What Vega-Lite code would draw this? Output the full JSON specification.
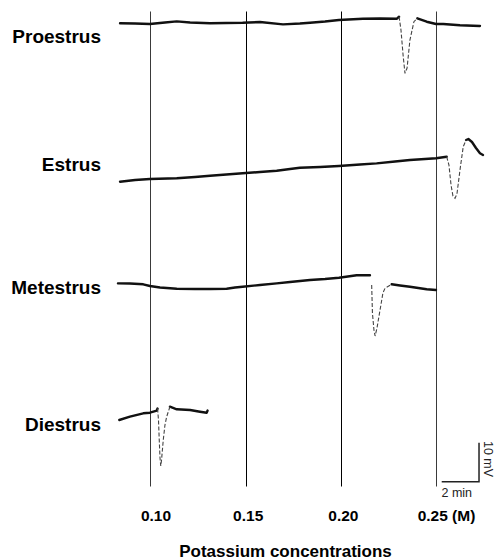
{
  "$schema": "https://vega.github.io/schema/vega-lite/v6.json",
  "width": 494,
  "height": 475,
  "autosize": "none",
  "padding": {"left": 0, "right": 0, "top": 11, "bottom": 74},
  "background": "white",
  "config": {"view": {"stroke": null}, "font": "Liberation Sans"},
  "datasets": {
    "traces": [
      {"seg":"P1","phase":"slow","t":0.0840,"v":118.64},
      {"seg":"P1","phase":"slow","t":0.0919,"v":118.59},
      {"seg":"P1","phase":"slow","t":0.0997,"v":118.46},
      {"seg":"P1","phase":"slow","t":0.1076,"v":118.85},
      {"seg":"P1","phase":"slow","t":0.1138,"v":119.15},
      {"seg":"P1","phase":"slow","t":0.1208,"v":118.85},
      {"seg":"P1","phase":"slow","t":0.1313,"v":118.64},
      {"seg":"P1","phase":"slow","t":0.1397,"v":118.72},
      {"seg":"P1","phase":"slow","t":0.1484,"v":118.79},
      {"seg":"P1","phase":"slow","t":0.1575,"v":118.97},
      {"seg":"P1","phase":"slow","t":0.1696,"v":118.38},
      {"seg":"P1","phase":"slow","t":0.1785,"v":118.59},
      {"seg":"P1","phase":"slow","t":0.1838,"v":118.79},
      {"seg":"P1","phase":"slow","t":0.1917,"v":119.10},
      {"seg":"P1","phase":"slow","t":0.1990,"v":119.49},
      {"seg":"P1","phase":"slow","t":0.2116,"v":119.82},
      {"seg":"P1","phase":"slow","t":0.2206,"v":119.87},
      {"seg":"P1","phase":"slow","t":0.2295,"v":119.82},
      {"seg":"P1","phase":"slow","t":0.2306,"v":120.33},
      {"seg":"P2","phase":"fast","t":0.2306,"v":120.33},
      {"seg":"P2","phase":"fast","t":0.2316,"v":116.92},
      {"seg":"P2","phase":"fast","t":0.2327,"v":110.51},
      {"seg":"P2","phase":"fast","t":0.2337,"v":105.82},
      {"seg":"P2","phase":"fast","t":0.2348,"v":107.18},
      {"seg":"P2","phase":"fast","t":0.2363,"v":114.36},
      {"seg":"P2","phase":"fast","t":0.2384,"v":119.05},
      {"seg":"P2","phase":"fast","t":0.2402,"v":119.92},
      {"seg":"P3","phase":"slow","t":0.2402,"v":119.92},
      {"seg":"P3","phase":"slow","t":0.2451,"v":119.05},
      {"seg":"P3","phase":"slow","t":0.2500,"v":118.46},
      {"seg":"P3","phase":"slow","t":0.2538,"v":118.46},
      {"seg":"P3","phase":"slow","t":0.2626,"v":118.13},
      {"seg":"P3","phase":"slow","t":0.2731,"v":117.95},
      {"seg":"E1","phase":"slow","t":0.0840,"v":78.03},
      {"seg":"E1","phase":"slow","t":0.0919,"v":78.46},
      {"seg":"E1","phase":"slow","t":0.0997,"v":78.72},
      {"seg":"E1","phase":"slow","t":0.1138,"v":78.90},
      {"seg":"E1","phase":"slow","t":0.1234,"v":79.23},
      {"seg":"E1","phase":"slow","t":0.1313,"v":79.56},
      {"seg":"E1","phase":"slow","t":0.1484,"v":80.18},
      {"seg":"E1","phase":"slow","t":0.1575,"v":80.51},
      {"seg":"E1","phase":"slow","t":0.1663,"v":80.85},
      {"seg":"E1","phase":"slow","t":0.1733,"v":81.28},
      {"seg":"E1","phase":"slow","t":0.1785,"v":81.62},
      {"seg":"E1","phase":"slow","t":0.1891,"v":81.79},
      {"seg":"E1","phase":"slow","t":0.1990,"v":82.05},
      {"seg":"E1","phase":"slow","t":0.2101,"v":82.44},
      {"seg":"E1","phase":"slow","t":0.2188,"v":82.74},
      {"seg":"E1","phase":"slow","t":0.2285,"v":83.21},
      {"seg":"E1","phase":"slow","t":0.2363,"v":83.59},
      {"seg":"E1","phase":"slow","t":0.2442,"v":83.85},
      {"seg":"E1","phase":"slow","t":0.2500,"v":84.03},
      {"seg":"E1","phase":"slow","t":0.2556,"v":84.44},
      {"seg":"E2","phase":"fast","t":0.2556,"v":84.44},
      {"seg":"E2","phase":"fast","t":0.2568,"v":82.31},
      {"seg":"E2","phase":"fast","t":0.2579,"v":77.18},
      {"seg":"E2","phase":"fast","t":0.2589,"v":74.36},
      {"seg":"E2","phase":"fast","t":0.2600,"v":73.77},
      {"seg":"E2","phase":"fast","t":0.2610,"v":74.87},
      {"seg":"E2","phase":"fast","t":0.2626,"v":81.03},
      {"seg":"E2","phase":"fast","t":0.2643,"v":87.00},
      {"seg":"E2","phase":"fast","t":0.2658,"v":88.72},
      {"seg":"E3","phase":"slow","t":0.2658,"v":88.72},
      {"seg":"E3","phase":"slow","t":0.2670,"v":88.97},
      {"seg":"E3","phase":"slow","t":0.2689,"v":88.21},
      {"seg":"E3","phase":"slow","t":0.2710,"v":86.67},
      {"seg":"E3","phase":"slow","t":0.2731,"v":85.31},
      {"seg":"E3","phase":"slow","t":0.2747,"v":84.87},
      {"seg":"M1","phase":"slow","t":0.0829,"v":51.97},
      {"seg":"M1","phase":"slow","t":0.0892,"v":51.92},
      {"seg":"M1","phase":"slow","t":0.0962,"v":51.72},
      {"seg":"M1","phase":"slow","t":0.0997,"v":51.28},
      {"seg":"M1","phase":"slow","t":0.1050,"v":50.90},
      {"seg":"M1","phase":"slow","t":0.1138,"v":50.59},
      {"seg":"M1","phase":"slow","t":0.1234,"v":50.51},
      {"seg":"M1","phase":"slow","t":0.1313,"v":50.51},
      {"seg":"M1","phase":"slow","t":0.1400,"v":50.59},
      {"seg":"M1","phase":"slow","t":0.1444,"v":50.90},
      {"seg":"M1","phase":"slow","t":0.1484,"v":51.10},
      {"seg":"M1","phase":"slow","t":0.1575,"v":51.54},
      {"seg":"M1","phase":"slow","t":0.1663,"v":51.97},
      {"seg":"M1","phase":"slow","t":0.1733,"v":52.31},
      {"seg":"M1","phase":"slow","t":0.1838,"v":52.82},
      {"seg":"M1","phase":"slow","t":0.1917,"v":53.08},
      {"seg":"M1","phase":"slow","t":0.1990,"v":53.41},
      {"seg":"M1","phase":"slow","t":0.2083,"v":54.03},
      {"seg":"M1","phase":"slow","t":0.2153,"v":54.03},
      {"seg":"M2","phase":"fast","t":0.2162,"v":51.54},
      {"seg":"M2","phase":"fast","t":0.2166,"v":44.36},
      {"seg":"M2","phase":"fast","t":0.2174,"v":40.00},
      {"seg":"M2","phase":"fast","t":0.2180,"v":38.46},
      {"seg":"M2","phase":"fast","t":0.2190,"v":40.51},
      {"seg":"M2","phase":"fast","t":0.2197,"v":42.56},
      {"seg":"M2","phase":"fast","t":0.2206,"v":45.13},
      {"seg":"M2","phase":"fast","t":0.2215,"v":47.69},
      {"seg":"M2","phase":"fast","t":0.2221,"v":49.49},
      {"seg":"M2","phase":"fast","t":0.2232,"v":50.69},
      {"seg":"M2","phase":"fast","t":0.2267,"v":51.72},
      {"seg":"M3","phase":"slow","t":0.2267,"v":51.72},
      {"seg":"M3","phase":"slow","t":0.2311,"v":51.41},
      {"seg":"M3","phase":"slow","t":0.2363,"v":51.10},
      {"seg":"M3","phase":"slow","t":0.2451,"v":50.44},
      {"seg":"M3","phase":"slow","t":0.2500,"v":50.26},
      {"seg":"D1","phase":"slow","t":0.0836,"v":16.92},
      {"seg":"D1","phase":"slow","t":0.0892,"v":17.77},
      {"seg":"D1","phase":"slow","t":0.0962,"v":18.64},
      {"seg":"D1","phase":"slow","t":0.0997,"v":18.79},
      {"seg":"D1","phase":"slow","t":0.1033,"v":19.31},
      {"seg":"D1","phase":"slow","t":0.1037,"v":19.87},
      {"seg":"D2","phase":"fast","t":0.1037,"v":19.87},
      {"seg":"D2","phase":"fast","t":0.1042,"v":16.92},
      {"seg":"D2","phase":"fast","t":0.1046,"v":11.79},
      {"seg":"D2","phase":"fast","t":0.1050,"v":7.18},
      {"seg":"D2","phase":"fast","t":0.1054,"v":5.13},
      {"seg":"D2","phase":"fast","t":0.1058,"v":6.67},
      {"seg":"D2","phase":"fast","t":0.1067,"v":11.79},
      {"seg":"D2","phase":"fast","t":0.1076,"v":15.64},
      {"seg":"D2","phase":"fast","t":0.1085,"v":17.77},
      {"seg":"D2","phase":"fast","t":0.1102,"v":20.33},
      {"seg":"D3","phase":"slow","t":0.1102,"v":20.33},
      {"seg":"D3","phase":"slow","t":0.1138,"v":19.67},
      {"seg":"D3","phase":"slow","t":0.1208,"v":19.49},
      {"seg":"D3","phase":"slow","t":0.1260,"v":19.05},
      {"seg":"D3","phase":"slow","t":0.1295,"v":18.79},
      {"seg":"D3","phase":"slow","t":0.1300,"v":19.36}
    ],
    "labels": [
      {"state":"Proestrus","t":0.0740,"v":115.13},
      {"state":"Estrus","t":0.0740,"v":82.31},
      {"state":"Metestrus","t":0.0740,"v":50.77},
      {"state":"Diestrus","t":0.0740,"v":15.64}
    ],
    "scalebar": [
      {"i":0,"t":0.2530,"v":1.10},
      {"i":1,"t":0.2726,"v":1.10},
      {"i":2,"t":0.2726,"v":11.10}
    ],
    "scaletext": [
      {"label":"2 min","t":0.2609,"v":-1.67,"angle":0},
      {"label":"10 mV","t":0.2771,"v":6.92,"angle":90}
    ]
  },
  "encoding": {
    "x": {
      "field": "t",
      "type": "quantitative",
      "scale": {"domain": [0.02093, 0.28047], "nice": false, "zero": false},
      "axis": {
        "values": [0.1, 0.15, 0.2, 0.25],
        "grid": true,
        "gridColor": {"condition": {"test": "datum.value > 0.12 && datum.value < 0.22", "value": "#000000"}, "value": "#3a3a3a"},
        "gridWidth": 1,
        "gridOpacity": 1,
        "domain": false,
        "ticks": false,
        "tickSize": 0,
        "labelExpr": "datum.value > 0.24 ? '0.25 (M)' : format(datum.value, '.2f')",
        "labelFont": "Liberation Sans",
        "labelFontWeight": "bold",
        "labelFontSize": 15.5,
        "labelColor": "#000000",
        "labelPadding": 34,
        "labelBaseline": "alphabetic",
        "labelOffset": {"condition": [{"test": "datum.value < 0.12", "value": 5}, {"test": "datum.value > 0.24", "value": 10}], "value": 2},
        "labelFlush": false,
        "labelOverlap": false,
        "labelBound": false,
        "title": "Potassium concentrations",
        "titleFont": "Liberation Sans",
        "titleFontSize": 17,
        "titleFontWeight": "bold",
        "titleColor": "#000000",
        "titleX": 285,
        "titleY": 70,
        "titleBaseline": "alphabetic"
      }
    },
    "y": {
      "field": "v",
      "type": "quantitative",
      "scale": {"domain": [0, 121.8], "nice": false, "zero": false},
      "axis": null
    }
  },
  "layer": [
    {
      "data": {"name": "traces"},
      "transform": [{"filter": "datum.phase == 'slow'"}],
      "mark": {"type": "line", "color": "#111111", "strokeWidth": 2.4, "strokeJoin": "round", "strokeCap": "round"},
      "encoding": {"detail": {"field": "seg"}}
    },
    {
      "data": {"name": "traces"},
      "transform": [{"filter": "datum.phase == 'fast'"}],
      "mark": {"type": "line", "color": "#444444", "strokeWidth": 1.1, "strokeDash": [4, 2]},
      "encoding": {"detail": {"field": "seg"}}
    },
    {
      "data": {"name": "scalebar"},
      "mark": {"type": "line", "color": "#222222", "strokeWidth": 1.5},
      "encoding": {"order": {"field": "i"}}
    },
    {
      "data": {"name": "labels"},
      "mark": {"type": "text", "align": "right", "baseline": "middle", "font": "Liberation Sans", "fontSize": 19, "fontWeight": "bold", "color": "#000000"},
      "encoding": {"text": {"field": "state"}}
    },
    {
      "data": {"name": "scaletext"},
      "mark": {"type": "text", "align": "center", "baseline": "middle", "font": "Liberation Sans", "fontSize": 12.5, "color": "#222222"},
      "encoding": {"text": {"field": "label"}, "angle": {"field": "angle", "type": "quantitative", "scale": null}}
    }
  ]
}
